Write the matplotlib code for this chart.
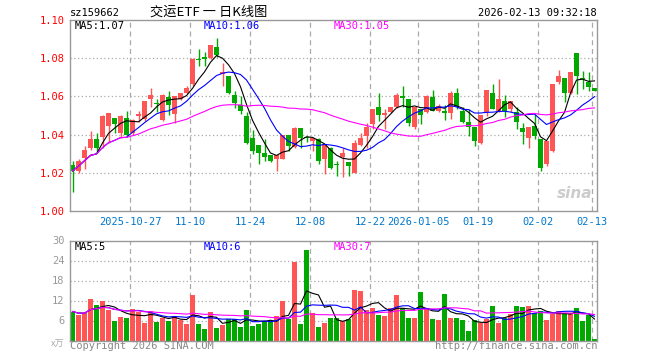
import matplotlib
matplotlib.use("Agg")
import matplotlib.pyplot as plt
import pandas as pd

# daily candles, 2025-10-13 .. 2026-02-13
opens = [1.024, 1.021, 1.028, 1.033, 1.0375, 1.039, 1.0446, 1.0486, 1.041, 1.0486,
         1.041, 1.050, 1.048, 1.0586, 1.0565, 1.0477, 1.0595, 1.0507, 1.0586, 1.0618,
         1.0665, 1.0795, 1.0805, 1.080, 1.0858, 1.0716, 1.0705, 1.0607, 1.0554, 1.0498,
         1.038, 1.0344, 1.0302, 1.0291, 1.0274, 1.027, 1.040, 1.0337, 1.0435, 1.0388,
         1.0367, 1.0375, 1.027, 1.0332, 1.0248, 1.0284, 1.0256, 1.020, 1.0344, 1.0393,
         1.0454, 1.0542, 1.0502, 1.0516, 1.0542, 1.060, 1.0586, 1.0442, 1.0533, 1.0516,
         1.0598, 1.0525, 1.0525, 1.0512, 1.0618, 1.0525, 1.0467, 1.0442, 1.0354, 1.052,
         1.0618, 1.0525, 1.0577, 1.0533, 1.052, 1.0432, 1.0384, 1.0446, 1.0375, 1.0244,
         1.0314, 1.0677, 1.0695, 1.0618, 1.0828, 1.0698, 1.0677, 1.0642]
closes = [1.021, 1.026, 1.032, 1.0375, 1.033, 1.0495, 1.0512, 1.0455, 1.050, 1.040,
          1.0477, 1.0503, 1.0577, 1.0607, 1.056, 1.0607, 1.0554, 1.060, 1.0618, 1.0642,
          1.0796, 1.079, 1.0795, 1.087, 1.0818, 1.0727, 1.0618, 1.0565, 1.0525, 1.0354,
          1.0314, 1.0305, 1.0284, 1.0261, 1.0291, 1.040, 1.0342, 1.0437, 1.0384, 1.038,
          1.0384, 1.0261, 1.0349, 1.0226, 1.0241, 1.0305, 1.0235, 1.0354, 1.0384, 1.0442,
          1.0533, 1.0502, 1.0512, 1.0547, 1.0607, 1.059, 1.046, 1.0547, 1.0502, 1.060,
          1.0525, 1.055, 1.0512, 1.0618, 1.0547, 1.0467, 1.0442, 1.0367, 1.0502, 1.0635,
          1.0533, 1.0586, 1.0525, 1.0577, 1.0467, 1.0414, 1.0442, 1.0393, 1.0226, 1.0367,
          1.0665, 1.0705, 1.0618, 1.073, 1.0709, 1.069, 1.0647, 1.063]
highs = [1.026, 1.027, 1.034, 1.042, 1.041, 1.050, 1.0512, 1.0486, 1.050, 1.0525,
         1.048, 1.0525, 1.0577, 1.0642, 1.0587, 1.061, 1.063, 1.060, 1.0618, 1.0656,
         1.080, 1.085, 1.083, 1.087, 1.0905, 1.0774, 1.0705, 1.063, 1.0603, 1.052,
         1.0425, 1.0344, 1.0375, 1.0291, 1.0291, 1.040, 1.040, 1.0442, 1.0435, 1.0395,
         1.0384, 1.038, 1.0349, 1.0335, 1.0262, 1.033, 1.0256, 1.0372, 1.041, 1.0463,
         1.0533, 1.0617, 1.0533, 1.0547, 1.0617, 1.0656, 1.0586, 1.0547, 1.0533, 1.0607,
         1.0635, 1.0558, 1.0554, 1.063, 1.0646, 1.0542, 1.0533, 1.0442, 1.0502, 1.0635,
         1.0665, 1.069, 1.0607, 1.0577, 1.0542, 1.046, 1.0442, 1.0507, 1.0375, 1.0367,
         1.0665, 1.074, 1.0695, 1.073, 1.0828, 1.0735, 1.073, 1.0642]
lows = [1.010, 1.020, 1.022, 1.032, 1.031, 1.033, 1.0355, 1.0407, 1.0384, 1.039,
        1.040, 1.0465, 1.047, 1.0547, 1.0517, 1.047, 1.050, 1.046, 1.0583, 1.0614,
        1.0656, 1.076, 1.076, 1.0795, 1.0805, 1.0654, 1.0615, 1.0537, 1.051, 1.035,
        1.030, 1.0244, 1.0261, 1.0255, 1.0209, 1.027, 1.0316, 1.0332, 1.0332, 1.036,
        1.0315, 1.0244, 1.0196, 1.022, 1.0183, 1.0177, 1.0185, 1.020, 1.0342, 1.0332,
        1.0428, 1.0472, 1.0428, 1.0512, 1.054, 1.0542, 1.0446, 1.0428, 1.0454, 1.0512,
        1.0525, 1.0516, 1.0477, 1.0484, 1.0533, 1.0463, 1.0393, 1.034, 1.0349, 1.0498,
        1.0533, 1.0516, 1.049, 1.052, 1.0428, 1.0349, 1.0332, 1.0379, 1.0209, 1.0235,
        1.031, 1.0665, 1.0572, 1.0612, 1.0612, 1.064, 1.0628, 1.063]
# volume, in 10k lots
volumes = [8.7, 7.7, 8.2, 12.5, 10.7, 11.9, 9.2, 5.9, 7.2, 6.7,
           9.5, 8.5, 5.3, 9.0, 5.7, 6.9, 6.0, 7.2, 6.2, 5.1,
           13.7, 5.0, 3.6, 8.6, 3.9, 4.7, 6.4, 6.5, 4.2, 9.2,
           4.4, 5.0, 5.9, 5.9, 7.4, 11.9, 6.6, 23.7, 5.0, 27.2,
           8.3, 4.1, 5.3, 6.8, 6.8, 5.8, 6.5, 15.2, 14.9, 9.2,
           9.8, 7.7, 7.4, 9.8, 13.7, 9.8, 6.8, 6.8, 14.6, 9.8,
           6.5, 6.1, 14.0, 6.8, 6.8, 6.2, 2.9, 6.2, 5.2, 6.5,
           10.4, 5.3, 6.8, 8.0, 10.4, 10.1, 10.4, 8.3, 8.9, 6.2,
           8.0, 8.9, 8.3, 8.3, 9.8, 5.9, 7.7, 0.5]

date_ticks = [10, 20, 30, 40, 50, 58, 68, 78, 87]
date_labels = ["2025-10-27", "11-10", "11-24", "12-08", "12-22",
               "2026-01-05", "01-19", "02-02", "02-13"]
price_ticks = [1.00, 1.02, 1.04, 1.06, 1.08, 1.10]
vol_ticks = [6, 12, 18, 24, 30]

RED = "#ff5555"
GREEN = "#00a800"
GRID = "#aaaaaa"
MONO = "DejaVu Sans Mono"
CJK = ["Noto Sans CJK SC", "DejaVu Sans"]

W, H = 660, 360
fig = plt.figure(figsize=(6.6, 3.6), dpi=100)

def rect(x0, y0, x1, y1):
    return [x0 / W, 1 - y1 / H, (x1 - x0) / W, (y1 - y0) / H]

def pt(x, y):
    return x / W, 1 - y / H

ax = fig.add_axes(rect(70, 20, 597, 211))
axv = fig.add_axes(rect(70, 240.5, 597, 340.5))

n = len(closes)
idx = list(range(n))
bw = 5 / 6
cx = [i + 2.5 / 6 for i in idx]
cols = [RED if c >= o else GREEN for o, c in zip(opens, closes)]

# candles
ax.vlines(cx, lows, highs, colors=cols, linewidth=1)
bottoms = [min(o, c) for o, c in zip(opens, closes)]
heights = [max(abs(c - o), 0.0006) for o, c in zip(opens, closes)]
ax.bar(idx, heights, bottom=bottoms, width=bw, align="edge", color=cols, linewidth=0)

s = pd.Series(closes)
ax.plot(cx, s.rolling(5, min_periods=1).mean(), color="black", lw=0.8)
ax.plot(cx, s.rolling(10, min_periods=1).mean(), color="#0000ff", lw=0.8)
ax.plot(cx, s.rolling(30, min_periods=1).mean(), color="#ff00ff", lw=0.8)

# volume
axv.bar(idx, volumes, width=bw, align="edge", color=cols, linewidth=0)
v = pd.Series(volumes)
axv.plot(cx, v.rolling(5, min_periods=1).mean(), color="black", lw=0.8)
axv.plot(cx, v.rolling(10, min_periods=1).mean(), color="#0000ff", lw=0.8)
axv.plot(cx, v.rolling(30, min_periods=1).mean(), color="#ff00ff", lw=0.8)

for a in (ax, axv):
    a.set_xlim(0, 527 / 6)
    for sp in a.spines.values():
        sp.set_color("#999999")
        sp.set_linewidth(1)
    for t in date_ticks:
        a.axvline(t, color=GRID, lw=0.9, ls=(0, (4, 3)), zorder=0)
    a.tick_params(length=0)

ax.set_ylim(1.00, 1.10)
ax.set_yticks(price_ticks)
ax.set_yticklabels([f"{p:.2f}" for p in price_ticks], color="red",
                   fontfamily=MONO, fontsize=7.5)
for p in price_ticks[1:-1]:
    ax.axhline(p, color=GRID, lw=0.9, ls=(0, (1, 2)), zorder=0)
ax.set_xticks(date_ticks)
ax.set_xticklabels(date_labels, color="#0077cc", fontfamily=MONO, fontsize=7.5)
ax.tick_params(axis="x", pad=4)
ax.tick_params(axis="y", pad=4)

axv.set_ylim(0, 30)
axv.set_yticks(vol_ticks)
axv.set_yticklabels([str(t) for t in vol_ticks], color="#999999",
                    fontfamily=MONO, fontsize=7.5)
for t in vol_ticks[:-1]:
    axv.axhline(t, color=GRID, lw=0.9, ls=(0, (1, 2)), zorder=0)
axv.set_xticks([])
axv.tick_params(axis="y", pad=4)

# legends / labels
fs = 7.5
fig.text(*pt(75, 26), "MA5:1.07", color="black", fontfamily=MONO, fontsize=fs, va="center")
fig.text(*pt(204, 26), "MA10:1.06", color="#0000ff", fontfamily=MONO, fontsize=fs, va="center")
fig.text(*pt(334, 26), "MA30:1.05", color="#ff00ff", fontfamily=MONO, fontsize=fs, va="center")
fig.text(*pt(75, 247), "MA5:5", color="black", fontfamily=MONO, fontsize=fs, va="center")
fig.text(*pt(204, 247), "MA10:6", color="#0000ff", fontfamily=MONO, fontsize=fs, va="center")
fig.text(*pt(334, 247), "MA30:7", color="#ff00ff", fontfamily=MONO, fontsize=fs, va="center")

fig.text(*pt(70, 13), "sz159662", color="black", fontfamily=MONO, fontsize=fs, va="center")
fig.text(*pt(150, 12), "交运ETF 一 日K线图", color="black",
         fontfamily=CJK, fontsize=9.5, va="center")
fig.text(*pt(597, 13), "2026-02-13 09:32:18", color="black", fontfamily=MONO,
         fontsize=fs, va="center", ha="right")
fig.text(*pt(70, 346), "Copyright 2026 SINA.COM", color="#888888", fontfamily=MONO,
         fontsize=fs, va="center")
fig.text(*pt(597, 346), "http://finance.sina.com.cn", color="#888888", fontfamily=MONO,
         fontsize=fs, va="center", ha="right")
fig.text(*pt(64, 344), "x万", color="#aaaaaa", fontfamily=CJK,
         fontsize=6.5, va="center", ha="right")
fig.text(*pt(575, 194), "sina", color="#cccccc", fontsize=11, fontweight="bold",
         fontstyle="italic", va="center", ha="center")

fig.savefig("out.png", dpi=100)
